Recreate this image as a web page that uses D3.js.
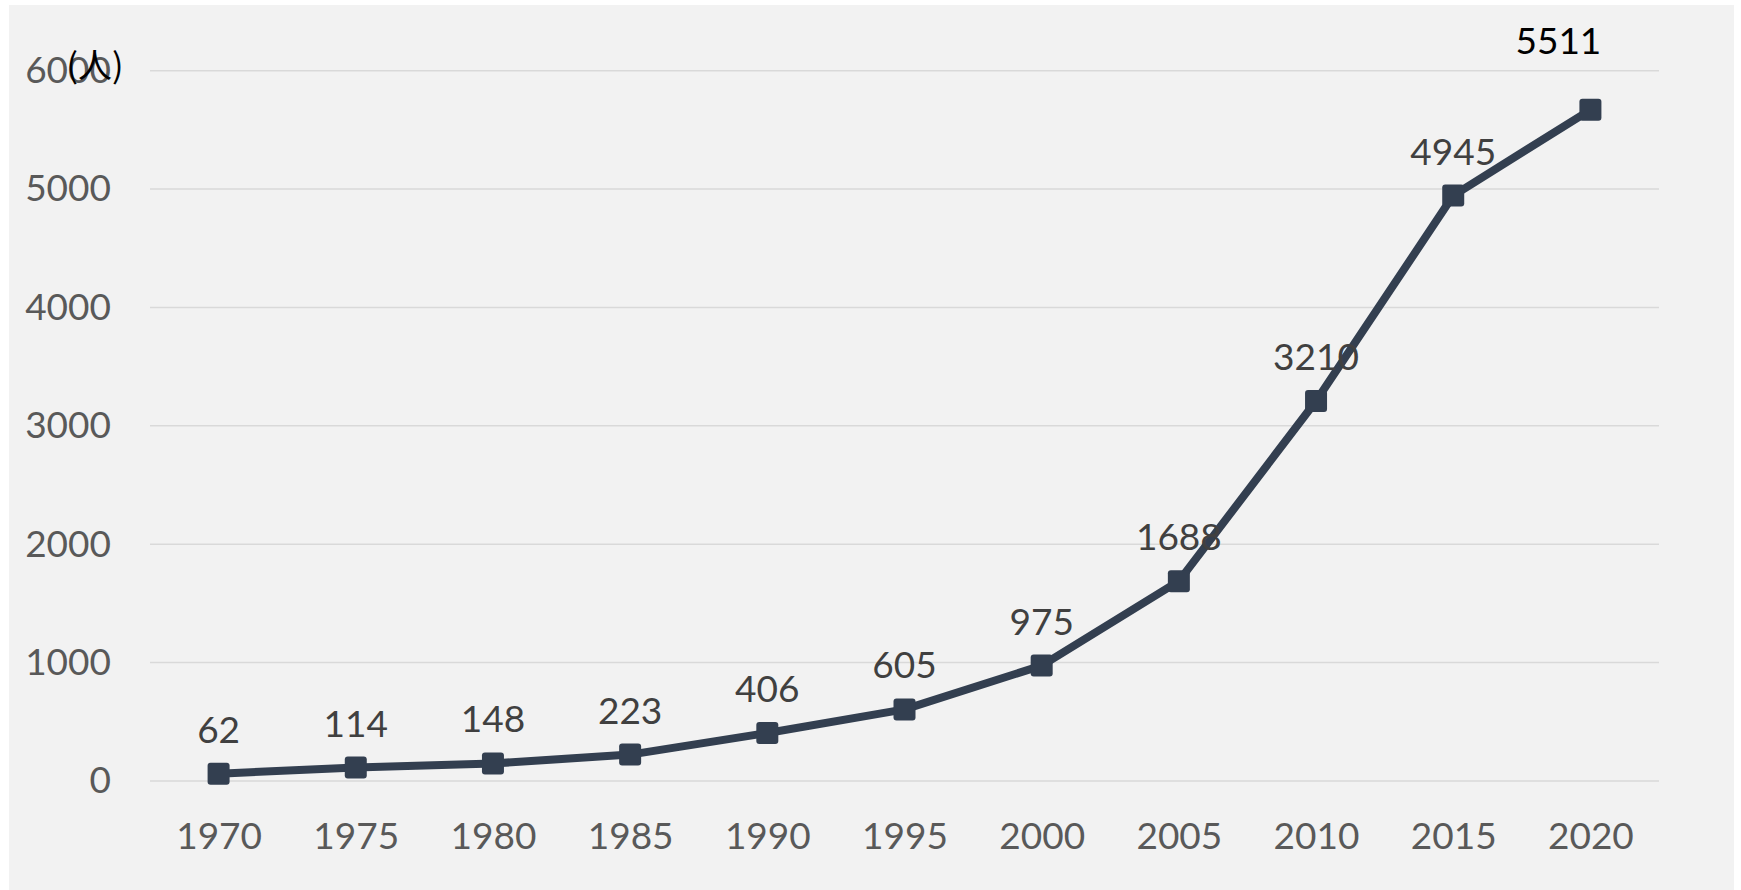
<!DOCTYPE html>
<html><head><meta charset="utf-8">
<script src="https://cdn.jsdelivr.net/npm/d3@7/dist/d3.min.js"></script>
<style>
html,body{margin:0;padding:0;background:#fff;}
svg{display:block;}
</style></head>
<body>
<svg id="c" width="1741" height="890"></svg>
<script>
const years = ["1970","1975","1980","1985","1990","1995","2000","2005","2010","2015","2020"];
const values = [62,114,148,223,406,605,975,1688,3210,4945,5670];
const labels = ["62","114","148","223","406","605","975","1688","3210","4945","5511"];
const yTicks = [0,1000,2000,3000,4000,5000,6000];
const unitLabel = "(人)";

const svg = d3.select("#c");
const m = {left:150, right:1659, top:70.7, bottom:781};

svg.append("rect").attr("x",9).attr("y",5).attr("width",1725).attr("height",885).attr("fill","#f2f2f2");

const x = d3.scalePoint().domain(years).range([m.left, m.right]).padding(0.5);
const y = d3.scaleLinear().domain([0,6000]).range([m.bottom, m.top]);

const font = "Lato, 'Open Sans', sans-serif";

// gridlines
svg.append("g").selectAll("line").data(yTicks).join("line")
  .attr("x1",m.left).attr("x2",m.right)
  .attr("y1",d=>y(d)).attr("y2",d=>y(d))
  .attr("stroke","#d9d9d9").attr("stroke-width",1.5);

// y axis
const ya = svg.append("g").attr("transform",`translate(${m.left},0)`)
  .call(d3.axisLeft(y).tickValues(yTicks).tickFormat(d3.format("d")).tickSize(0).tickPadding(39));
ya.select(".domain").remove();
ya.selectAll("text").attr("font-family",font).attr("font-size",37).attr("fill","#595959");

// x axis
const xa = svg.append("g").attr("transform",`translate(0,${m.bottom})`)
  .call(d3.axisBottom(x).tickSize(0).tickPadding(42));
xa.select(".domain").remove();
xa.selectAll("text").attr("font-family",font).attr("font-size",37).attr("fill","#595959");

// line
const pts = years.map((yr,i)=>({yr, v:values[i], lab:labels[i], i}));
svg.append("path").datum(pts)
  .attr("d", d3.line().x(d=>x(d.yr)).y(d=>y(d.v)))
  .attr("fill","none").attr("stroke","#333f50").attr("stroke-width",8).attr("stroke-linejoin","round");

// markers
const ms = 22;
svg.append("g").selectAll("rect").data(pts).join("rect")
  .attr("x",d=>x(d.yr)-ms/2).attr("y",d=>y(d.v)-ms/2)
  .attr("width",ms).attr("height",ms).attr("rx",3)
  .attr("fill","#333f50");

// data labels
const last = pts.length-1;
svg.append("g").selectAll("text").data(pts).join("text")
  .attr("x",d=>d.i===last ? x(d.yr)-32 : x(d.yr))
  .attr("y",d=>d.i===last ? y(6000)-17 : y(d.v)-31)
  .attr("text-anchor","middle")
  .attr("font-family",font).attr("font-size",37)
  .attr("fill",d=>d.i===last ? "#000" : "#404040")
  .text(d=>d.lab);

// unit label
svg.append("text").attr("x",95).attr("y",y(6000)+7)
  .attr("text-anchor","middle")
  .attr("font-family","'Noto Sans CJK JP', 'Noto Sans CJK SC', sans-serif")
  .attr("font-size",34).attr("fill","#000")
  .text(unitLabel);
</script>
</body></html>
